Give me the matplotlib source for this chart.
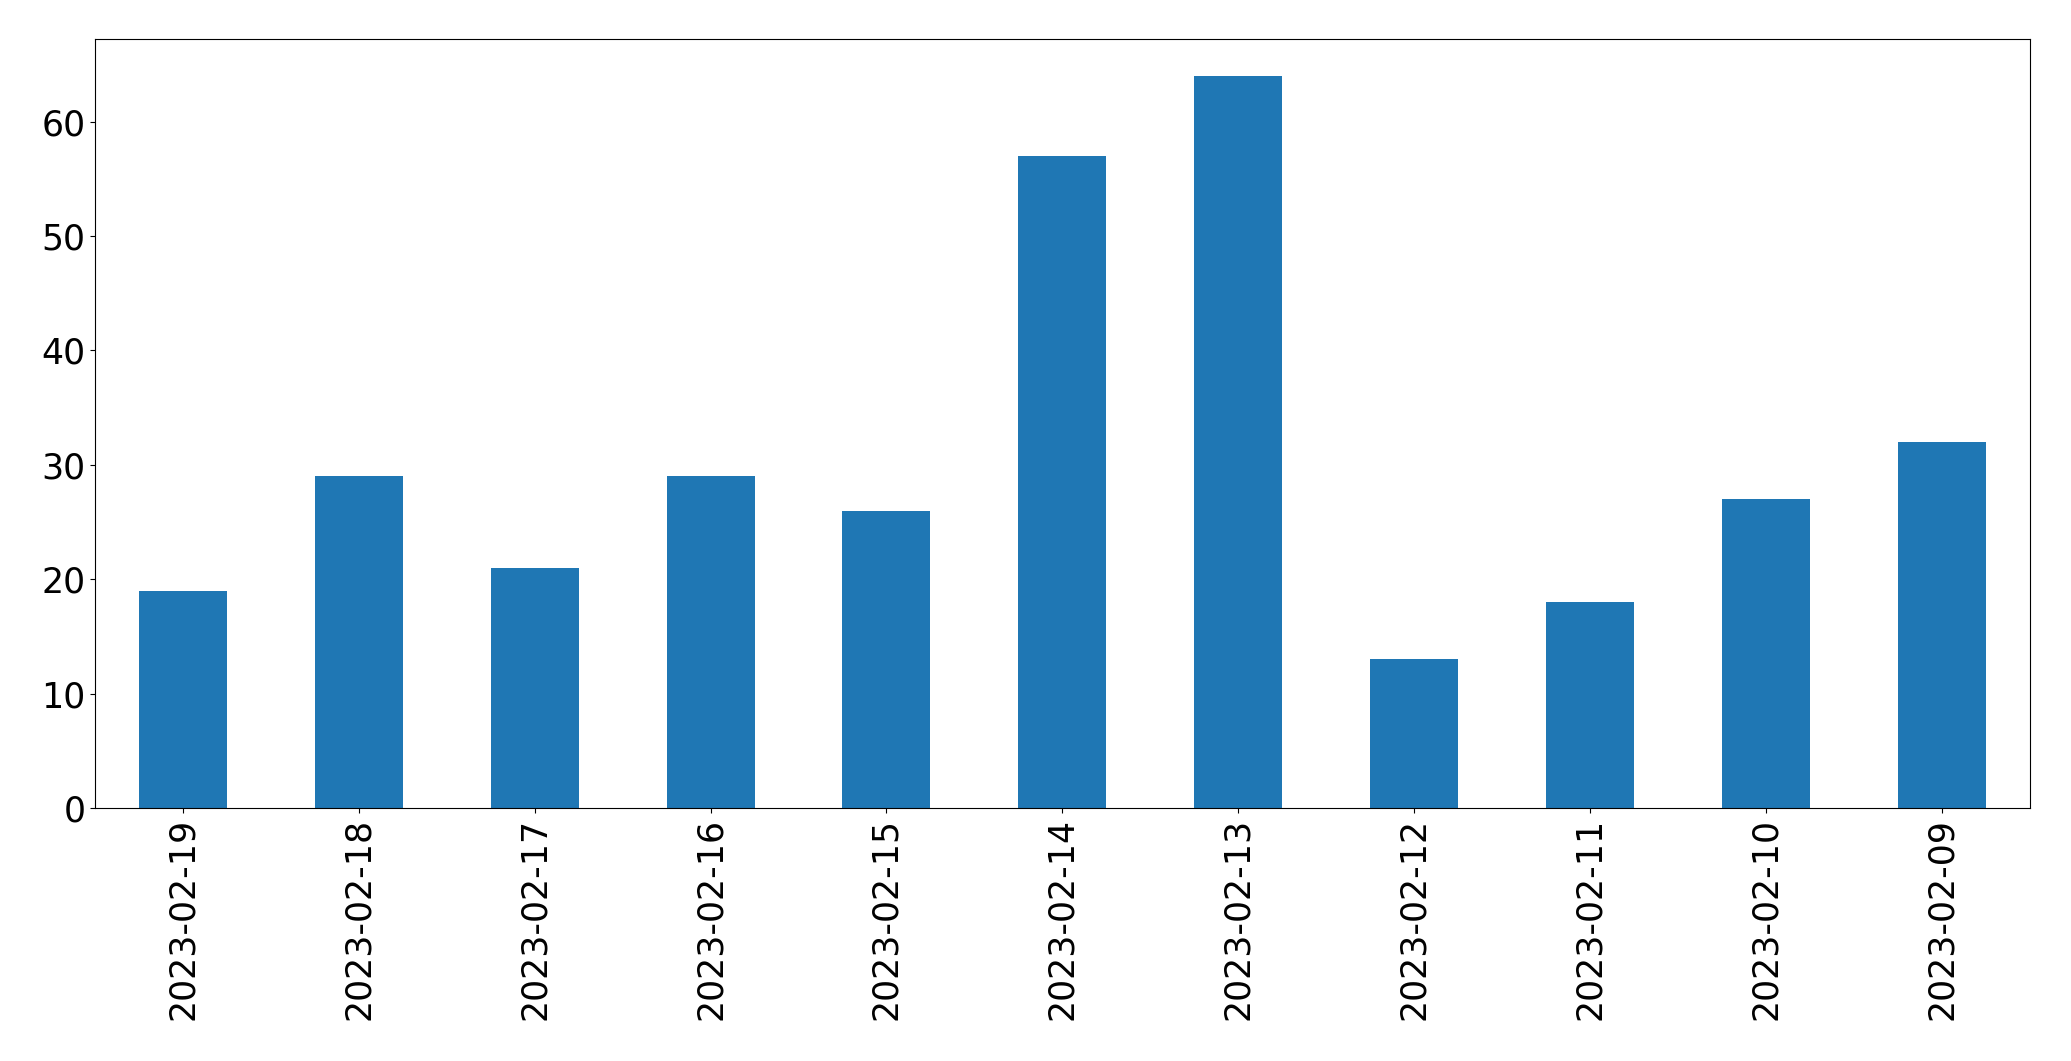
import matplotlib
matplotlib.use("Agg")
import matplotlib.pyplot as plt
import pandas as pd

dates = ["2023-02-19", "2023-02-18", "2023-02-17", "2023-02-16", "2023-02-15",
         "2023-02-14", "2023-02-13", "2023-02-12", "2023-02-11", "2023-02-10",
         "2023-02-09"]
counts = [19, 29, 21, 29, 26, 57, 64, 13, 18, 27, 32]

s = pd.Series(counts, index=dates)

fig = plt.figure(figsize=(20.71, 10.61), dpi=100)
ax = fig.add_axes([0.0459, 0.2385, 0.9341, 0.7245])
s.plot(kind="bar", ax=ax, color="#1f77b4", fontsize=25)
ax.tick_params(labelsize=25)
fig.savefig("out.png", dpi=100)
